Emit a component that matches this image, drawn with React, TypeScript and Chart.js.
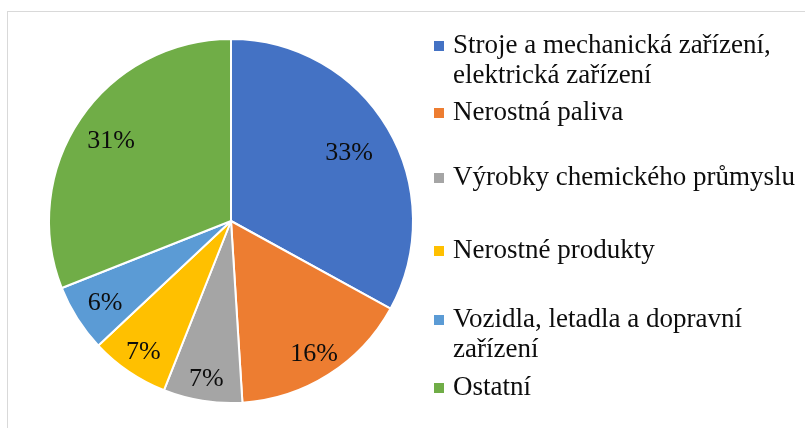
import React, { useEffect, useRef } from "react";
import { Chart, registerables } from "chart.js";

Chart.register(...registerables);

const categories: string[][] = [
  ["Stroje a mechanická zařízení,", "elektrická zařízení"],
  ["Nerostná paliva"],
  ["Výrobky chemického průmyslu"],
  ["Nerostné produkty"],
  ["Vozidla, letadla a dopravní", "zařízení"],
  ["Ostatní"],
];
const shares: number[] = [33, 16, 7, 7, 6, 31];
const colors: string[] = ["#4472C4", "#ED7D31", "#A5A5A5", "#FFC000", "#5B9BD5", "#70AD47"];

const FONT = '"Liberation Serif", "Times New Roman", serif';

const labelRadius = [0.753, 0.852, 0.868, 0.857, 0.819, 0.797];
const legendBaselines: number[][] = [[53, 83], [120], [185], [258], [327, 357], [395]];

const framePlugin = {
  id: "frame",
  beforeDraw(chart: any) {
    const ctx = chart.ctx;
    ctx.save();
    ctx.fillStyle = "#ffffff";
    ctx.fillRect(0, 0, chart.width, chart.height);
    ctx.strokeStyle = "#d9d9d9";
    ctx.lineWidth = 1;
    ctx.strokeRect(7.5, 11.5, 820, 440);
    ctx.restore();
  },
};

const labelsPlugin = {
  id: "pctLabels",
  afterDatasetsDraw(chart: any) {
    const ctx = chart.ctx;
    const meta = chart.getDatasetMeta(0);
    ctx.save();
    ctx.font = `26px ${FONT}`;
    ctx.fillStyle = "#0d0d0d";
    ctx.textAlign = "center";
    ctx.textBaseline = "alphabetic";
    meta.data.forEach((arc: any, i: number) => {
      const { x, y, startAngle, endAngle, outerRadius } = arc.getProps(
        ["x", "y", "startAngle", "endAngle", "outerRadius"],
        true
      );
      const mid = (startAngle + endAngle) / 2;
      const r = outerRadius * labelRadius[i];
      const cx = x + Math.cos(mid) * r;
      const cy = y + Math.sin(mid) * r;
      ctx.fillText(`${shares[i]}%`, cx, cy + 9);
    });
    ctx.restore();
  },
};

const legendPlugin = {
  id: "sideLegend",
  afterDraw(chart: any) {
    const ctx = chart.ctx;
    ctx.save();
    ctx.font = `27px ${FONT}`;
    ctx.textAlign = "left";
    ctx.textBaseline = "alphabetic";
    categories.forEach((lines, i) => {
      const bl = legendBaselines[i];
      ctx.fillStyle = colors[i];
      ctx.fillRect(434, bl[0] - 12, 10, 10);
      ctx.fillStyle = "#0d0d0d";
      lines.forEach((t, j) => ctx.fillText(t, 453, bl[j]));
    });
    ctx.restore();
  },
};

export default function App() {
  const ref = useRef<HTMLCanvasElement | null>(null);
  useEffect(() => {
    if (!ref.current) return;
    const chart = new Chart(ref.current, {
      type: "pie",
      data: {
        labels: categories.map((l) => l.join(" ")),
        datasets: [
          {
            data: shares,
            backgroundColor: colors,
            borderColor: "#ffffff",
            borderWidth: 2,
          },
        ],
      },
      options: {
        responsive: false,
        animation: false,
        layout: { padding: { left: 48, top: 38, right: 391, bottom: 24 } },
        plugins: {
          legend: { display: false },
          tooltip: { enabled: false },
          title: { display: false },
        },
      },
      plugins: [framePlugin, labelsPlugin, legendPlugin],
    });
    return () => chart.destroy();
  }, []);
  return (
    <div style={{ position: "absolute", left: 0, top: 0, width: 805, height: 428, overflow: "hidden" }}>
      <canvas ref={ref} width={805} height={428} style={{ display: "block" }} />
    </div>
  );
}
